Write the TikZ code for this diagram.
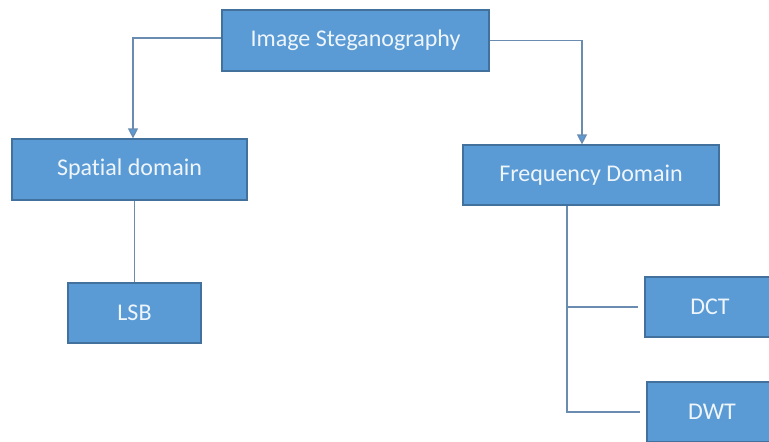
\documentclass[tikz,border=0pt]{standalone}
\usepackage{fontspec}
\setmainfont[Ligatures=NoCommon]{Carlito}
\usetikzlibrary{arrows.meta}
\definecolor{boxfill}{HTML}{5B9BD5}
\definecolor{boxline}{HTML}{41719C}
\definecolor{linkcol}{HTML}{6A8CB0}
\definecolor{labelcol}{HTML}{EEF5FB}
\begin{document}
\begin{tikzpicture}[x=1pt,y=-1pt,
  box/.style={draw=boxline, line width=1.2pt, fill=boxfill, text=labelcol,
    font=\fontsize{24}{28}\selectfont, inner sep=0pt},
  link/.style={draw=linkcol, line width=1.3pt},
  arr/.style={link, -{Triangle[length=10pt,width=10pt,fill=boxfill]}}]
\useasboundingbox (0,0) rectangle (769,442);
\clip (0,0) rectangle (769,442);
\fill[white] (0,0) rectangle (769,442);
% boxes
\node[box, minimum width=267pt, minimum height=61pt] (img) at (355.5,40.5) {\raisebox{2pt}{Image Steganography}};
\node[box, minimum width=235pt, minimum height=61pt] (spat) at (129.5,169.5) {\raisebox{2pt}{Spatial domain}};
\node[box, minimum width=256pt, minimum height=60pt] (freq) at (591,175) {Frequency Domain};
\node[box, minimum width=133pt, minimum height=60pt] (lsb) at (134.5,313) {LSB};
\node[box, minimum width=130pt, minimum height=60pt] (dct) at (710,307) {DCT};
\node[box, minimum width=130pt, minimum height=60pt] (dwt) at (712,412) {DWT};
% connectors
\draw[arr] ([yshift=2.5pt]img.west) -| ([xshift=3.5pt]spat.north);
\draw[arr] (img.east) -| ([xshift=-9pt]freq.north);
\draw[link] (lsb.north |- spat.south) -- (lsb.north);
\coordinate (fb) at (567,0);
\draw[link] (freq.south -| fb) |- ([xshift=-6pt]dwt.west);
\draw[link] (fb |- dct.west) -- ([xshift=-6pt]dct.west);
\end{tikzpicture}
\end{document}
